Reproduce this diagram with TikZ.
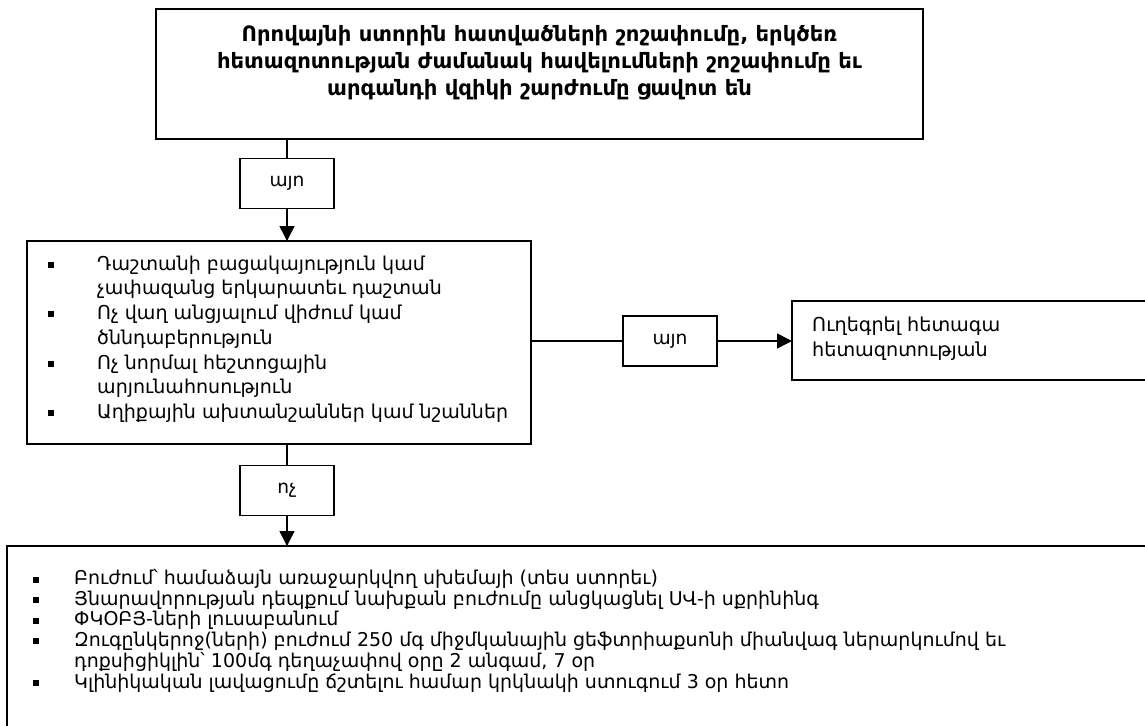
\documentclass[tikz,border=0pt]{standalone}
\usepackage{fontspec}
\setmainfont{DejaVu Sans}
\usetikzlibrary{arrows.meta}

\newlength{\probewidth}
% font size that gives a sample text a wanted width
\newcommand{\fitfont}[3]{%
  \settowidth{\probewidth}{\fontsize{10}{12}\selectfont #3}%
  \pgfmathsetmacro#1{10*#2/\probewidth}}
\newcommand{\bulletsq}{\rule[\dimexpr0.273em-3pt\relax]{6pt}{6pt}}

\begin{document}
\fitfont{\sizeQuestion}{645}{\bfseries հետազոտության ժամանակ հավելումների շոշափումը եւ}%
\fitfont{\sizeSigns}{411}{Աղիքային ախտանշաններ կամ նշաններ}%
\fitfont{\sizeRefer}{188}{Ուղեգրել հետագա}%
\fitfont{\sizeTreat}{931}{Զուգընկերոջ(ների) բուժում 250 մգ միջմկանային ցեֆտրիաքսոնի միանվագ ներարկումով եւ}%
\fitfont{\sizeAnswer}{35}{այո}%
\begin{tikzpicture}
[x=1pt,y=-1pt,
  frameDecorate/.style={draw,line width=1.5pt,anchor=north west,inner sep=0pt,outer sep=0pt},%
  answerDecorate/.style={draw,line width=1.5pt,minimum width=94pt,minimum height=50pt,
    inner sep=0pt,outer sep=0pt,font=\fontsize{\sizeAnswer}{20}\selectfont},%
  listDecorate/.style={anchor=base west,inner sep=0pt},%
  lineDecorate/.style={line width=1.5pt},%
  arrowDecorate/.style={line width=1.5pt,-{Triangle[length=15pt,width=15pt]}}]
\useasboundingbox (0,0) rectangle (1145,725);
%% frames
\node (question) at (156,9)   [frameDecorate,minimum width=767pt,minimum height=130pt] {};
\node (signs)    at (27,241)  [frameDecorate,minimum width=504pt,minimum height=203pt] {};
\node (refer)    at (792,301) [frameDecorate,minimum width=380pt,minimum height=79pt] {};
\node (treat)    at (7,546)   [frameDecorate,minimum width=1165pt,minimum height=200pt] {};
%% answers
\foreach \nodename/\x/\y/\answer in {yes1/287/183.5/այո, yes2/670/341/այո, no1/287/490.5/ոչ} {
  \node (\nodename) at (\x,\y) [answerDecorate] {\answer};
}
%% texts
\node (questionText) at (539.5,36+0.273*\sizeQuestion) [anchor=base,inner sep=0pt,
    font=\bfseries\fontsize{\sizeQuestion}{27}\selectfont]
  {\begin{tabular}[t]{@{}c@{}}
   Որովայնի ստորին հատվածների շոշափումը, երկծեռ\\
   հետազոտության ժամանակ հավելումների շոշափումը եւ\\
   արգանդի վզիկի շարժումը ցավոտ են
   \end{tabular}};
\node (signsText) at (48,265+0.273*\sizeSigns) [listDecorate,font=\fontsize{\sizeSigns}{24.7}\selectfont]
  {\begin{tabular}[t]{@{}p{49pt}@{}l@{}}
   \bulletsq & Դաշտանի բացակայություն կամ\\
             & չափազանց երկարատեւ դաշտան\\
   \bulletsq & Ոչ վաղ անցյալում վիժում կամ\\
             & ծննդաբերություն\\
   \bulletsq & Ոչ նորմալ հեշտոցային\\
             & արյունահոսություն\\
   \bulletsq & Աղիքային ախտանշաններ կամ նշաններ
   \end{tabular}};
\node (referText) at (812,326+0.273*\sizeRefer) [listDecorate,font=\fontsize{\sizeRefer}{25}\selectfont]
  {\begin{tabular}[t]{@{}l@{}}
   Ուղեգրել հետագա\\
   հետազոտության
   \end{tabular}};
\node (treatText) at (33,579.5+0.273*\sizeTreat) [listDecorate,font=\fontsize{\sizeTreat}{20.5}\selectfont]
  {\begin{tabular}[t]{@{}p{41pt}@{}l@{}}
   \bulletsq & Բուժում՝ համաձայն առաջարկվող սխեմայի (տես ստորեւ)\\
   \bulletsq & Յնարավորության դեպքում նախքան բուժումը անցկացնել ՍՎ-ի սքրինինգ\\
   \bulletsq & ՓԿՕԲՅ-ների լուսաբանում\\
   \bulletsq & Զուգընկերոջ(ների) բուժում 250 մգ միջմկանային ցեֆտրիաքսոնի միանվագ ներարկումով եւ\\
             & դոքսիցիկլին՝ 100մգ դեղաչափով օրը 2 անգամ, 7 օր\\
   \bulletsq & Կլինիկական լավացումը ճշտելու համար կրկնակի ստուգում 3 օր հետո
   \end{tabular}};
%% connectors
\draw[lineDecorate]  (yes1.north |- question.south) -- (yes1.north);
\draw[arrowDecorate] (yes1.south) -- (yes1.south |- signs.north);
\draw[lineDecorate]  (no1.north |- signs.south) -- (no1.north);
\draw[arrowDecorate] (no1.south) -- (no1.south |- treat.north);
\draw[lineDecorate]  (signs.east |- yes2.west) -- (yes2.west);
\draw[arrowDecorate] (yes2.east) -- (yes2.east -| refer.west);
\end{tikzpicture}
\end{document}
